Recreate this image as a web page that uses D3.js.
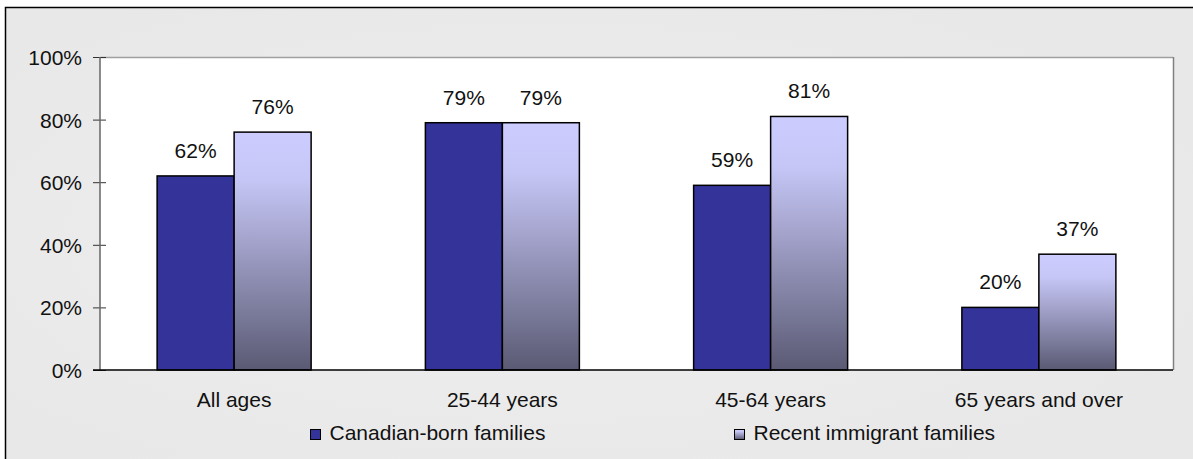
<!DOCTYPE html>
<html><head><meta charset="utf-8">
<script src="https://cdn.jsdelivr.net/npm/d3@7/dist/d3.min.js"></script>
<style>
html,body{margin:0;padding:0;background:#fff;}
svg text{font-family:"Liberation Sans",Arial,sans-serif;fill:#111;}
</style></head>
<body><svg id="c" width="1193" height="459"></svg>
<script>
const categories = ["All ages", "25-44 years", "45-64 years", "65 years and over"];
const seriesNames = ["Canadian-born families", "Recent immigrant families"];
const canadianBorn = [62, 79, 59, 20];
const recentImmigrant = [76, 79, 81, 37];
const yTicks = [0, 20, 40, 60, 80, 100];

const FS = 21;
const svg = d3.select("#c");
const defs = svg.append("defs");
const bg = defs.append("radialGradient").attr("id","bg").attr("cx","0.45").attr("cy","0.5").attr("r","0.6");
bg.append("stop").attr("offset","0").attr("stop-color","#efefef");
bg.append("stop").attr("offset","1").attr("stop-color","#e8e8e8");
const gr = defs.append("linearGradient").attr("id","imm").attr("x1",0).attr("y1",0).attr("x2",0).attr("y2",1);
gr.append("stop").attr("offset","0").attr("stop-color","#ccccff");
gr.append("stop").attr("offset","0.2").attr("stop-color","#c6c6f6");
gr.append("stop").attr("offset","1").attr("stop-color","#5a5a74");

svg.append("rect").attr("x",0).attr("y",0).attr("width",1193).attr("height",459).attr("fill","#fff");
svg.append("rect").attr("x",5.5).attr("y",7.5).attr("width",1200).attr("height",460)
  .attr("fill","url(#bg)").attr("stroke","#000").attr("stroke-width",1.5);

const L=100, R=1173, T=57, B=370;
const x0 = d3.scaleBand().domain(categories).range([L,R]);
const bw = 77;
const x1 = d3.scaleBand().domain(seriesNames).range([0, bw*2]);
const y = d3.scaleLinear().domain([0,100]).range([B,T]);

svg.append("rect").attr("x",L).attr("y",T).attr("width",R-L).attr("height",B-T).attr("fill","#fff");
svg.append("line").attr("x1",L).attr("x2",R).attr("y1",T+0.5).attr("y2",T+0.5).attr("stroke","#a0a0a0").attr("stroke-width",1.5);
svg.append("line").attr("x1",R+0.5).attr("x2",R+0.5).attr("y1",T).attr("y2",B).attr("stroke","#808080").attr("stroke-width",1.5);

const data = categories.map((c,i)=>({c, vals:[canadianBorn[i], recentImmigrant[i]]}));
const fills = ["#333399","url(#imm)"];
const g = svg.append("g");
data.forEach(d=>{
  const gx = x0(d.c) + x0.bandwidth()/2 - bw;
  d.vals.forEach((v,j)=>{
    const xx = gx + x1(seriesNames[j]);
    g.append("rect").attr("x",xx).attr("y",y(v)).attr("width",bw).attr("height",B-y(v))
      .attr("fill",fills[j]).attr("stroke","#000").attr("stroke-width",1.5);
    g.append("text").attr("x",xx+bw/2).attr("y",y(v)-18).attr("text-anchor","middle")
      .attr("font-size",FS).text(v+"%");
  });
});

// y axis
const ya = svg.append("g").attr("transform",`translate(${L},0)`)
  .call(d3.axisLeft(y).tickValues(yTicks).tickFormat(d=>d+"%").tickSize(6));
ya.select(".domain").remove();
ya.selectAll(".tick line").attr("x2",6).attr("x1",-7).attr("stroke","#333");
ya.selectAll(".tick text").attr("font-size",FS).attr("font-family","Liberation Sans, Arial, sans-serif").attr("fill","#111").attr("x",-18).attr("dy","0.36em");
svg.append("line").attr("x1",L).attr("x2",L).attr("y1",T).attr("y2",B).attr("stroke","#666").attr("stroke-width",1.5);

// x axis
const xa = svg.append("g").attr("transform",`translate(0,${B})`)
  .call(d3.axisBottom(x0).tickSize(0));
xa.select(".domain").remove();
xa.selectAll(".tick text").attr("font-size",FS).attr("font-family","Liberation Sans, Arial, sans-serif").attr("fill","#111").attr("y",37).attr("dy",0);
svg.append("line").attr("x1",L-7).attr("x2",R).attr("y1",B).attr("y2",B).attr("stroke","#000").attr("stroke-width",1.5);

// legend
const legX = [310.5, 734.5];
seriesNames.forEach((s,i)=>{
  svg.append("rect").attr("x",legX[i]).attr("y",429.5).attr("width",10).attr("height",10)
    .attr("fill", i===0?"#333399":"url(#imm)").attr("stroke","#000").attr("stroke-width",1);
  svg.append("text").attr("x",legX[i]+19).attr("y",440).attr("font-size",FS).text(s);
});
</script></body></html>
